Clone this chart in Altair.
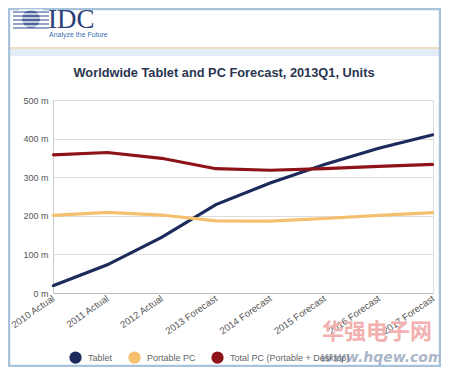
import altair as alt
import pandas as pd

years = ["2010 Actual", "2011 Actual", "2012 Actual", "2013 Forecast",
         "2014 Forecast", "2015 Forecast", "2016 Forecast", "2017 Forecast"]
tablet = [19, 73, 144, 229, 285, 333, 375, 410]
portable_pc = [201, 209, 202, 187, 186, 193, 201, 208]
total_pc = [358, 364, 349, 322, 318, 322, 328, 333]
series_names = ["Tablet", "Portable PC", "Total PC (Portable + Desktop)"]
series_colors = ["#1c2a5c", "#f5c06e", "#8e1318"]
y_ticks = [0, 100, 200, 300, 400, 500]
title_text = "Worldwide Tablet and PC Forecast, 2013Q1, Units"

rows = []
for name, vals in zip(series_names, [tablet, portable_pc, total_pc]):
    for yr, v in zip(years, vals):
        rows.append({"year": yr, "value": v, "series": name})
df = pd.DataFrame(rows)

W, H = 380, 193

x_enc = alt.X("year:N", sort=years, scale=alt.Scale(paddingOuter=0, padding=0, type="point"),
              axis=alt.Axis(title=None, labelAngle=325, labelAlign="right", labelBaseline="middle",
                            labelColor="#555555", labelFontSize=9.5, labelFont="Liberation Sans",
                            ticks=False, domainColor="#bbbbbb", labelPadding=4, grid=False))
y_enc = alt.Y("value:Q", scale=alt.Scale(domain=[0, 500], nice=False),
              axis=alt.Axis(title=None, values=y_ticks, labelExpr="datum.value + ' m'",
                            labelColor="#555555", labelFontSize=9, labelFont="Liberation Sans",
                            ticks=False, domainColor="#cccccc", gridColor="#dddddd",
                            labelPadding=5))
color_scale = alt.Scale(domain=series_names, range=series_colors)

pts = alt.Chart(df).mark_point(filled=True, size=6, opacity=1, clip=False).encode(
    x=x_enc, y=y_enc,
    color=alt.Color("series:N", sort=series_names, scale=color_scale,
                    legend=alt.Legend(title=None, orient="none", direction="horizontal",
                                      legendX=16, legendY=251, symbolType="circle",
                                      symbolSize=150, symbolStrokeWidth=0,
                                      labelColor="#666666", labelFontSize=9,
                                      labelFont="Liberation Sans", columnPadding=15,
                                      labelOffset=6, labelLimit=200)),
)
lines = alt.Chart(df).mark_line(strokeWidth=3.2, clip=False).encode(
    x=x_enc, y=y_enc,
    color=alt.Color("series:N", sort=series_names, scale=color_scale),
)

deco = pd.DataFrame({"k": [0]})
band = alt.Chart(deco).mark_rect(color="#e3edf7", clip=False).encode(
    x=alt.value(-44), x2=alt.value(388), y=alt.value(-51), y2=alt.value(-44))
band_line = alt.Chart(deco).mark_rule(color="#e8d3a8", strokeWidth=1.5, clip=False).encode(
    x=alt.value(-44), x2=alt.value(388), y=alt.value(-52))
frame = alt.Chart(deco).mark_rect(fillOpacity=0, stroke="#a9c2dc", strokeWidth=2.5,
                                  clip=False).encode(
    x=alt.value(-44), x2=alt.value(387), y=alt.value(-91), y2=alt.value(266))

title = alt.Chart(deco).mark_text(text=title_text, font="Liberation Sans", fontSize=12.8,
                                  fontWeight="bold", color="#2a3550", align="center",
                                  baseline="middle", clip=False).encode(
    x=alt.value(171), y=alt.value(-27))

idc = alt.Chart(deco).mark_text(text="IDC", font="Liberation Serif", fontSize=27,
                                color="#2b3f7a", align="left", baseline="alphabetic",
                                clip=False).encode(x=alt.value(-5), y=alt.value(-72))
tag = alt.Chart(deco).mark_text(text="Analyze the Future", font="Liberation Sans", fontSize=7,
                                color="#3a6fb5", align="left", baseline="middle",
                                clip=False).encode(x=alt.value(-4), y=alt.value(-65))
globe = alt.Chart(deco).mark_point(shape="circle", filled=True, size=330, color="#2b4a8a",
                                   clip=False).encode(x=alt.value(-22), y=alt.value(-81))
stripe_y = [-90, -86, -82, -78, -74]
stripe_layers = [alt.Chart(deco).mark_rule(color="white", strokeWidth=1.2, clip=False).encode(
    x=alt.value(-34), x2=alt.value(-10), y=alt.value(s)) for s in stripe_y]
side_layers = [alt.Chart(deco).mark_rule(color="#2b4a8a", strokeWidth=1, clip=False).encode(
    x=alt.value(-40), x2=alt.value(-4), y=alt.value(s + 2)) for s in stripe_y]

watermark = alt.Chart(deco).mark_text(text="华强电子网", font="Noto Sans CJK SC", fontSize=22,
                                      fontWeight="bold", color="#f2b0b0", align="left",
                                      baseline="middle", clip=False).encode(
    x=alt.value(322 - 53), y=alt.value(332 - 100))
watermark2 = alt.Chart(deco).mark_text(text="www.hqew.com", font="DejaVu Sans", fontSize=14,
                                       fontWeight="bold", fontStyle="italic", color="#aab6c8",
                                       align="left", baseline="middle", clip=False).encode(
    x=alt.value(320 - 53), y=alt.value(358 - 100))

chart = alt.layer(band, band_line, frame, *side_layers, globe, *stripe_layers, idc, tag, title,
                  watermark, watermark2, pts, lines).properties(
    width=W, height=H,
    autosize=alt.AutoSizeParams(type="none"),
    padding={"left": 45, "top": 92, "right": 8, "bottom": 74},
).configure_view(stroke=None).configure(background="white")

chart.save("out.html", embed_options={"renderer": "svg", "actions": False})
